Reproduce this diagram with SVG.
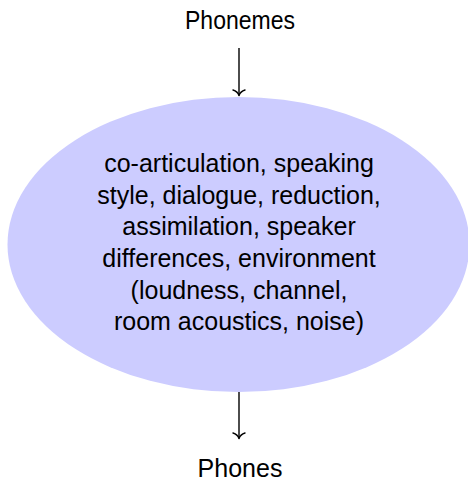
<svg xmlns="http://www.w3.org/2000/svg" width="468" height="481" viewBox="0 0 468 481">
<defs>
<style>
text{font-family:"Liberation Sans","DejaVu Sans",sans-serif;font-size:25px;fill:#000;text-anchor:middle}
.conn{stroke:#000;stroke-width:1.4;fill:none}
.head{stroke:#000;stroke-width:1.4;fill:none;stroke-linecap:round;stroke-linejoin:round}
</style>
<marker id="to" markerUnits="userSpaceOnUse" markerWidth="16" markerHeight="16" viewBox="-8 -8 16 16" refX="0" refY="0" orient="auto">
<path class="head" d="M-5.5,-6 C-4.5,-2.8 -1.8,-0.6 0,0 C-1.8,0.6 -4.5,2.8 -5.5,6"/>
</marker>
</defs>
<rect width="468" height="481" fill="#fff"/>
<g id="phonemes"><text x="240" y="29" textLength="110" lengthAdjust="spacingAndGlyphs">Phonemes</text></g>
<g id="factors">
<ellipse cx="238.5" cy="244.5" rx="231" ry="147.5" fill="#ccccff"/>
<text x="239" y="172">co-articulation, speaking</text>
<text x="239" y="203.5">style, dialogue, reduction,</text>
<text x="239" y="235">assimilation, speaker</text>
<text x="239" y="266.8">differences, environment</text>
<text x="239" y="298.5">(loudness, channel,</text>
<text x="239" y="330">room acoustics, noise)</text>
</g>
<g id="phones"><text x="240" y="477">Phones</text></g>
<g id="connectors">
<line class="conn" x1="239" y1="48" x2="239" y2="95.5" marker-end="url(#to)"/>
<line class="conn" x1="239" y1="392" x2="239" y2="438.5" marker-end="url(#to)"/>
</g>
</svg>
